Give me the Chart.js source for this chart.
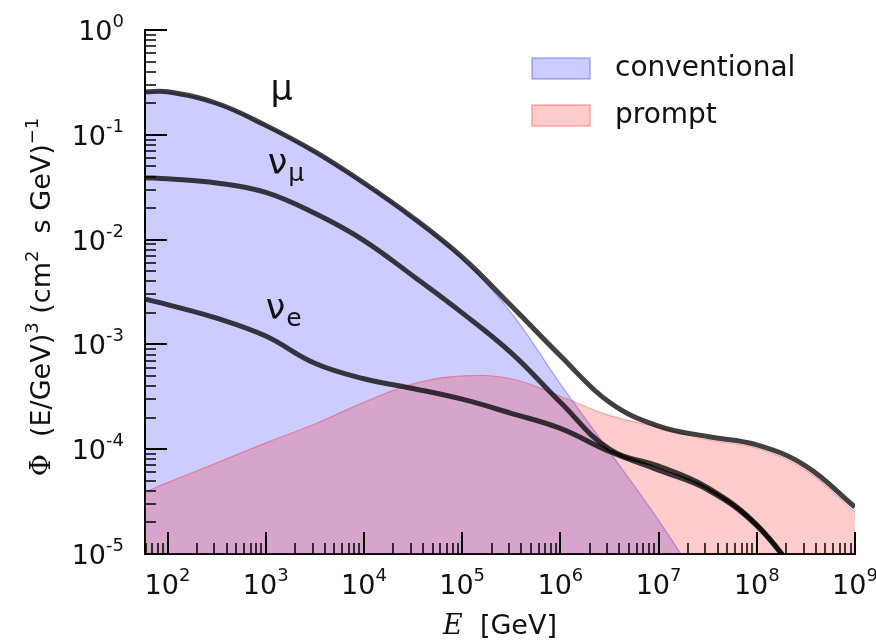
<!DOCTYPE html>
<html>
<head>
<meta charset="utf-8">
<script src="https://cdn.jsdelivr.net/npm/chart.js@4.4.0/dist/chart.umd.min.js"></script>
<style>
  html, body { margin: 0; padding: 0; background: #fff; }
  #wrap { width: 876px; height: 642px; }
</style>
</head>
<body>
<div id="wrap"><canvas id="fluxChart" width="876" height="642"></canvas></div>
<script>
"use strict";
// energy grid [GeV], half-decade steps
var energy = [59, 1e2, 3.16e2, 1e3, 3.16e3, 1e4, 3.16e4, 1e5, 3.16e5, 1e6, 3.16e6, 1e7, 3.16e7, 1e8, 3.16e8, 1e9];
// E^3 weighted fluxes
var muTotal = [0.257, 0.257, 0.20, 0.123, 0.069, 0.0347, 0.0162, 6.8e-3, 2.34e-3, 7.8e-4, 2.8e-4, 1.66e-4, 1.32e-4, 1.1e-4, 6.9e-5, 2.8e-5];
var numuTotal = [0.039, 0.038, 0.0347, 0.0282, 0.0178, 9.8e-3, 4.5e-3, 2.0e-3, 8.3e-4, 2.8e-4, 1.0e-4, 6.9e-5, 4.3e-5, 1.9e-5, 5e-6, null];
var nueTotal = [2.7e-3, 2.4e-3, 1.78e-3, 1.2e-3, 6.6e-4, 4.7e-4, 3.8e-4, 3.0e-4, 2.2e-4, 1.58e-4, 9.5e-5, 6.3e-5, 4.1e-5, 1.86e-5, 5e-6, null];
var conventionalFlux = [0.257, 0.257, 0.20, 0.123, 0.069, 0.0347, 0.0162, 6.6e-3, 2.0e-3, 4.2e-4, 9.5e-5, 2.1e-5, 4e-6, null, null, null];
var promptFlux = [3.9e-5, 4.8e-5, 7.4e-5, 1.15e-4, 1.74e-4, 2.8e-4, 4.2e-4, 5.0e-4, 4.7e-4, 3.2e-4, 2.1e-4, 1.62e-4, 1.23e-4, 1.02e-4, 6.3e-5, 2.5e-5];

var xTickValues = [1e2, 1e3, 1e4, 1e5, 1e6, 1e7, 1e8, 1e9];
var yTickValues = [1e-5, 1e-4, 1e-3, 1e-2, 1e-1, 1];
var bandLabels = ['conventional', 'prompt'];

var SANS = '"DejaVu Sans", sans-serif';
var SERIF = '"DejaVu Serif", serif';
var lineColor = 'rgba(0,0,0,0.75)';

function toPoints(values) {
    var pts = [];
    for (var i = 0; i < energy.length; i++) {
        if (values[i] !== null) pts.push({ x: energy[i], y: values[i] });
    }
    return pts;
}

function exponentOf(value) {
    return String(Math.round(Math.log10(value)));
}

// all 1..9 x 10^n positions inside [min, max]
function logTickList(min, max) {
    var list = [];
    for (var d = Math.floor(Math.log10(min)); d <= Math.ceil(Math.log10(max)); d++) {
        for (var m = 1; m <= 9; m++) {
            var v = m * Math.pow(10, d);
            if (v >= min * 0.999 && v <= max * 1.001) list.push({ value: v, major: m === 1 });
        }
    }
    return list;
}

// "10" with a raised exponent; align: 'center' or 'right'
function drawPower(ctx, value, x, baseline, align) {
    var base = '27px ' + SANS, sup = '18px ' + SANS;
    var exp = exponentOf(value);
    ctx.font = base;
    var w1 = ctx.measureText('10').width;
    ctx.font = sup;
    var w2 = ctx.measureText(exp).width;
    var left = align === 'right' ? x - w1 - w2 : x - (w1 + w2) / 2;
    ctx.font = base;
    ctx.fillText('10', left, baseline);
    ctx.font = sup;
    ctx.fillText(exp, left + w1, baseline - 13);
}

// inward ticks and tick labels, matplotlib style
var axisDecor = {
    id: 'axisDecor',
    afterDatasetsDraw: function (chart) {
        var ctx = chart.ctx, area = chart.chartArea;
        var xs = chart.scales.x, ys = chart.scales.y;
        ctx.save();
        ctx.strokeStyle = '#000';
        logTickList(xs.min, xs.max).forEach(function (t) {
            var px = Math.round(xs.getPixelForValue(t.value));
            ctx.lineWidth = t.major ? 2 : 1.5;
            ctx.beginPath();
            ctx.moveTo(px, area.bottom);
            ctx.lineTo(px, area.bottom - (t.major ? 22 : 11));
            ctx.stroke();
        });
        logTickList(ys.min, ys.max).forEach(function (t) {
            var py = Math.round(ys.getPixelForValue(t.value));
            ctx.lineWidth = t.major ? 2 : 1.5;
            ctx.beginPath();
            ctx.moveTo(area.left, py);
            ctx.lineTo(area.left + (t.major ? 22 : 11), py);
            ctx.stroke();
        });

        ctx.fillStyle = '#111';
        ctx.textAlign = 'left';
        ctx.textBaseline = 'alphabetic';
        xTickValues.forEach(function (v) {
            drawPower(ctx, v, xs.getPixelForValue(v), area.bottom + 40, 'center');
        });
        yTickValues.forEach(function (v) {
            drawPower(ctx, v, area.left - 21, ys.getPixelForValue(v) + 10, 'right');
        });
        ctx.restore();
    }
};

function drawParts(ctx, parts, cx, y) {
    var total = 0;
    parts.forEach(function (p) {
        ctx.font = p.font;
        p.w = ctx.measureText(p.t).width;
        total += p.w;
    });
    var x = cx - total / 2;
    parts.forEach(function (p) {
        ctx.font = p.font;
        ctx.fillText(p.t, x, y + (p.dy || 0));
        x += p.w;
    });
}

var annotations = {
    id: 'annotations',
    afterDraw: function (chart) {
        var ctx = chart.ctx, xs = chart.scales.x, ys = chart.scales.y;
        ctx.save();
        ctx.fillStyle = '#111';
        ctx.textAlign = 'left';
        ctx.textBaseline = 'alphabetic';

        // y axis title
        ctx.save();
        ctx.translate(50, 297);
        ctx.rotate(-Math.PI / 2);
        var big = '27px ' + SANS, small = '18px ' + SANS;
        drawParts(ctx, [
            { t: 'Φ', font: '27px ' + SERIF },
            { t: '  (E/GeV)', font: big },
            { t: '3', font: small, dy: -12 },
            { t: ' (cm', font: big },
            { t: '2', font: small, dy: -12 },
            { t: '  s GeV)', font: big },
            { t: '−1', font: small, dy: -12 }
        ], 0, 0);
        ctx.restore();

        // x axis title
        drawParts(ctx, [
            { t: 'E', font: 'italic 27px ' + SERIF },
            { t: '  [GeV]', font: '27px ' + SANS }
        ], (chart.chartArea.left + chart.chartArea.right) / 2, 634);

        // curve labels
        var bigSym = '35px ' + SANS, subSym = '25px ' + SANS;
        ctx.font = bigSym;
        ctx.fillText('μ', xs.getPixelForValue(1.12e3), ys.getPixelForValue(0.213));
        [['μ', 1.05e3, 0.0426], ['e', 1.0e3, 1.73e-3]].forEach(function (l) {
            var x = xs.getPixelForValue(l[1]), y = ys.getPixelForValue(l[2]);
            ctx.font = bigSym;
            ctx.fillText('ν', x, y);
            var w = ctx.measureText('ν').width;
            ctx.font = subSym;
            ctx.fillText(l[0], x + w + 1, y + 7);
        });

        // legend for the two bands
        ctx.font = '28px ' + SANS;
        ctx.textBaseline = 'middle';
        bandLabels.forEach(function (label, i) {
            var ds = chart.data.datasets.filter(function (d) { return d.label === label; })[0];
            var by = 58 + i * 47;
            ctx.fillStyle = ds.backgroundColor;
            ctx.fillRect(532, by, 58, 21);
            ctx.strokeStyle = ds.borderColor;
            ctx.lineWidth = 1.5;
            ctx.strokeRect(532, by, 58, 21);
            ctx.fillStyle = '#111';
            ctx.fillText(label, 615, by + 11);
        });
        ctx.restore();
    }
};

function lineSet(label, values) {
    return {
        label: label,
        data: toPoints(values),
        borderColor: lineColor,
        borderWidth: 5,
        fill: false,
        order: 0
    };
}

var ctx = document.getElementById('fluxChart');
var fluxChart = new Chart(ctx, {
    type: 'line',
    data: {
        datasets: [
            lineSet('μ', muTotal),
            lineSet('νμ', numuTotal),
            lineSet('νe', nueTotal),
            {
                label: bandLabels[1],
                data: toPoints(promptFlux),
                borderColor: 'rgba(255,0,0,0.3)',
                backgroundColor: 'rgba(255,0,0,0.2)',
                borderWidth: 1.2,
                fill: 'start',
                order: 1
            },
            {
                label: bandLabels[0],
                data: toPoints(conventionalFlux),
                borderColor: 'rgba(0,0,255,0.3)',
                backgroundColor: 'rgba(0,0,255,0.2)',
                borderWidth: 1.2,
                fill: 'start',
                order: 2
            }
        ]
    },
    options: {
        responsive: false,
        animation: false,
        layout: { padding: { top: 30, right: 21, left: 0, bottom: 0 } },
        elements: {
            point: { radius: 0 },
            line: { tension: 0.4, borderJoinStyle: 'round' }
        },
        plugins: {
            legend: { display: false },
            tooltip: { enabled: false }
        },
        scales: {
            x: {
                type: 'logarithmic',
                min: 59,
                max: 1e9,
                afterFit: function (scale) {
                    scale.height = 88;
                    scale.paddingLeft = 0;
                    scale.paddingRight = 0;
                },
                grid: { display: true, drawOnChartArea: false, drawTicks: false },
                border: { display: true, color: '#000', width: 2 },
                ticks: { display: false }
            },
            y: {
                type: 'logarithmic',
                min: 1e-5,
                max: 1,
                afterFit: function (scale) {
                    scale.width = 145;
                    scale.paddingTop = 0;
                    scale.paddingBottom = 0;
                },
                grid: { display: true, drawOnChartArea: false, drawTicks: false },
                border: { display: true, color: '#000', width: 2 },
                ticks: { display: false }
            }
        }
    },
    plugins: [axisDecor, annotations]
});
</script>
</body>
</html>
